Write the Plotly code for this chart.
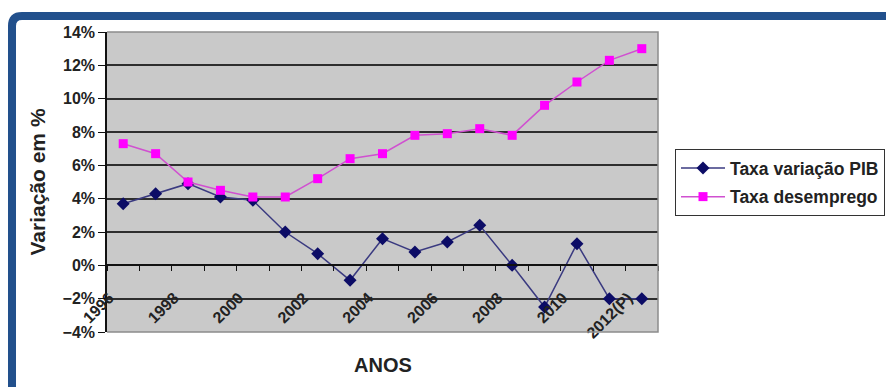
import plotly.graph_objects as go

# Annual series (1996-2012, last year projected)
anos = ["1996", "1997", "1998", "1999", "2000", "2001", "2002", "2003", "2004",
        "2005", "2006", "2007", "2008", "2009", "2010", "2011", "2012 (P)"]
taxa_pib = [3.7, 4.3, 4.9, 4.1, 3.9, 2.0, 0.7, -0.9, 1.6, 0.8, 1.4, 2.4,
            0.0, -2.5, 1.3, -2.0, -2.0]
taxa_desemprego = [7.3, 6.7, 5.0, 4.5, 4.1, 4.1, 5.2, 6.4, 6.7, 7.8, 7.9, 8.2,
                   7.8, 9.6, 11.0, 12.3, 13.0]
# every other year is labelled on the category axis
rotulos_x = ["1996", "", "1998", "", "2000", "", "2002", "", "2004", "",
             "2006", "", "2008", "", "2010", "", "2012(P)"]
y_min, y_max = -4, 14

FONT = "Liberation Sans, Arial, sans-serif"
TXT = "#222222"

fig = go.Figure()
fig.add_trace(go.Scatter(
    x=anos, y=taxa_pib, name="Taxa variação PIB", mode="lines+markers",
    legendgroup="pib",
    line=dict(color="#3a3a80", width=1.5),
    marker=dict(symbol="diamond", size=10, color="#0c0c66"),
))
fig.add_trace(go.Scatter(
    x=anos, y=taxa_desemprego, name="Taxa desemprego", mode="lines+markers",
    legendgroup="desemprego",
    line=dict(color="#d050d0", width=1.5),
    marker=dict(symbol="square", size=9, color="#ff00ff"),
))

zero_pos = (0 - y_min) / (y_max - y_min)

fig.update_layout(
    width=886, height=387,
    margin=dict(l=107, r=228, t=32, b=55, autoexpand=False),
    paper_bgcolor="white",
    plot_bgcolor="#c9c9c9",
    font=dict(family=FONT, color=TXT),
    showlegend=True,
    legend=dict(
        x=(675 - 107) / 551, y=(332 - 149) / 300, xanchor="left", yanchor="top",
        bgcolor="white", bordercolor="#333333", borderwidth=1,
        font=dict(family=FONT, size=17.5, color=TXT, weight="bold"),
        traceorder="grouped", tracegroupgap=3, itemwidth=44,
    ),
    xaxis=dict(
        type="category", anchor="free", position=zero_pos,
        tickmode="array", tickvals=anos, ticktext=rotulos_x,
        tickson="boundaries", ticks="outside", ticklen=5, tickcolor="#111111",
        tickangle=-45, ticklabelstandoff=16, ticklabelshift=-14,
        tickfont=dict(family=FONT, size=16, color=TXT, weight="bold"),
        showline=True, linecolor="#111111", linewidth=2,
        showgrid=False, zeroline=False, range=[-0.5, len(anos) - 0.5],
    ),
    yaxis=dict(
        range=[y_min, y_max], dtick=2, ticksuffix="%",
        ticks="outside", ticklen=7, tickcolor="#111111",
        tickfont=dict(family=FONT, size=16, color=TXT, weight="bold"),
        showline=True, linecolor="#111111", linewidth=1.5,
        showgrid=True, gridcolor="#2e2e2e", gridwidth=2, zeroline=False,
        title=dict(text="Variação em %", standoff=11,
                   font=dict(family=FONT, size=21, color=TXT, weight="bold")),
    ),
    annotations=[dict(
        text="ANOS", xref="paper", yref="paper", x=0.5, y=(332 - 365) / 300,
        xanchor="center", yanchor="middle", showarrow=False,
        font=dict(family=FONT, size=20, color=TXT, weight="bold"),
    )],
    shapes=[
        # plot-area border on top, right and bottom
        dict(type="path", xref="paper", yref="paper", layer="above",
             path="M 0 1 L 1 1 L 1 0 L 0 0",
             line=dict(color="#8c8c8c", width=1.5)),
        # blue frame around the chart
        dict(type="path", xref="paper", yref="paper", layer="above",
             path=("M %.4f %.4f L %.4f %.4f Q %.4f %.4f %.4f %.4f L %.4f %.4f" % (
                 (12 - 107) / 551, (332 - 400) / 300,
                 (12 - 107) / 551, (332 - 26) / 300,
                 (12 - 107) / 551, (332 - 16) / 300,
                 (22 - 107) / 551, (332 - 16) / 300,
                 (900 - 107) / 551, (332 - 16) / 300)),
             line=dict(color="#22508c", width=8)),
    ],
)

fig.write_html("out.html")
